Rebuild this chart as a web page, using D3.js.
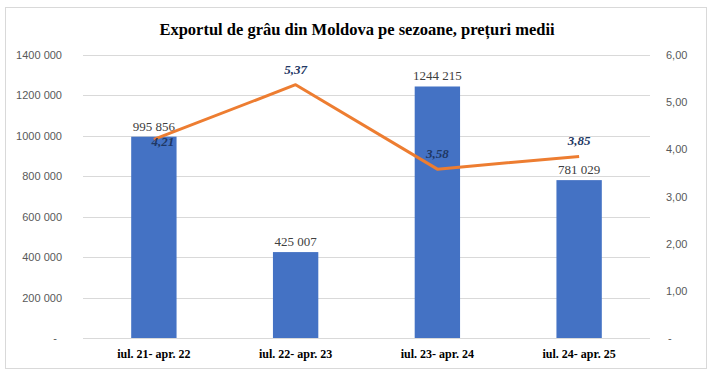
<!DOCTYPE html>
<html>
<head>
<meta charset="utf-8">
<script src="https://cdn.jsdelivr.net/npm/d3@7"></script>
<style>
  body { margin: 0; background: #fff; }
  svg { display: block; }
</style>
</head>
<body>
<div id="chart"></div>
<script>
const seasons = ['iul. 21- apr. 22', 'iul. 22- apr. 23', 'iul. 23- apr. 24', 'iul. 24- apr. 25']
const exportVolume = [995856, 425007, 1244215, 781029]
const avgPrice = [4.21, 5.37, 3.58, 3.85]
const leftTicks = [0, 200000, 400000, 600000, 800000, 1000000, 1200000, 1400000]
const rightTicks = [0, 1, 2, 3, 4, 5, 6]

const WIDTH = 714, HEIGHT = 376
const MARGIN = { top: 55, right: 64, bottom: 38, left: 83 }
const W = WIDTH - MARGIN.left - MARGIN.right
const H = HEIGHT - MARGIN.top - MARGIN.bottom

// excel style: "1244 215", "-" for zero
const fmtVol = v => {
  if (v === 0) return '-'
  const th = Math.floor(v / 1000), rest = v % 1000
  return th > 0 ? `${th} ${String(rest).padStart(3, '0')}` : String(rest)
}
const fmtPrice = v => v === 0 ? '-' : v.toFixed(2).replace('.', ',')

const svg = d3.select('#chart').append('svg').attr('width', WIDTH).attr('height', HEIGHT)

svg.append('rect')
  .attr('x', 5.5).attr('y', 7.5).attr('width', 701).attr('height', 361)
  .attr('fill', '#fff').attr('stroke', '#d9d9d9')

svg.append('text')
  .attr('x', 357).attr('y', 35)
  .attr('text-anchor', 'middle')
  .style('font-family', '"Liberation Serif", "Times New Roman", serif')
  .style('font-weight', 'bold').style('font-size', '16.5px')
  .attr('fill', '#000')
  .text('Exportul de grâu din Moldova pe sezoane, prețuri medii')

const g = svg.append('g').attr('transform', `translate(${MARGIN.left},${MARGIN.top})`)

const x = d3.scaleBand().domain(seasons).range([0, W]).paddingInner(0.68).paddingOuter(0.34)
const xc = d => x(d) + x.bandwidth() / 2
const yL = d3.scaleLinear().domain([0, 1400000]).range([H, 0])
const yR = d3.scaleLinear().domain([0, 6]).range([H, 0])

// gridlines
g.append('g').selectAll('line').data(leftTicks.slice(1)).join('line')
  .attr('x1', 0).attr('x2', W)
  .attr('y1', d => Math.round(yL(d)) + 0.5).attr('y2', d => Math.round(yL(d)) + 0.5)
  .attr('stroke', '#d9d9d9').attr('stroke-width', 1)

// axes
const axisFont = g => g.selectAll('text')
  .style('font-family', '"Liberation Sans", Arial, sans-serif')
  .style('font-size', '11px').attr('fill', '#595959')

g.append('g')
  .call(d3.axisLeft(yL).tickValues(leftTicks).tickFormat(fmtVol).tickSize(0).tickPadding(21))
  .call(a => a.select('.domain').remove())
  .call(axisFont)
  .call(a => a.selectAll('text').filter(d => d === 0).attr('dx', -5))

g.append('g').attr('transform', `translate(${W},0)`)
  .call(d3.axisRight(yR).tickValues(rightTicks).tickFormat(fmtPrice).tickSize(0).tickPadding(16))
  .call(a => a.select('.domain').remove())
  .call(axisFont)
  .call(a => a.selectAll('text').filter(d => d === 0).attr('dx', 2))

// bars
g.append('g').selectAll('rect').data(exportVolume).join('rect')
  .attr('x', (d, i) => x(seasons[i]))
  .attr('y', d => yL(d))
  .attr('width', x.bandwidth())
  .attr('height', d => H - yL(d))
  .attr('fill', '#4472c4')

// x axis line + labels
g.append('line')
  .attr('x1', 0).attr('x2', W).attr('y1', H + 0.5).attr('y2', H + 0.5)
  .attr('stroke', '#d9d9d9')

g.append('g').selectAll('text').data(seasons).join('text')
  .attr('x', d => xc(d)).attr('y', H + 20)
  .attr('text-anchor', 'middle')
  .style('font-family', '"Liberation Serif", "Times New Roman", serif')
  .style('font-weight', 'bold').style('font-size', '12px')
  .attr('fill', '#000')
  .text(d => d)

// bar labels
g.append('g').selectAll('text').data(exportVolume).join('text')
  .attr('x', (d, i) => xc(seasons[i]))
  .attr('y', d => yL(d) - 6)
  .attr('text-anchor', 'middle')
  .style('font-family', '"Liberation Serif", "Times New Roman", serif')
  .style('font-size', '13px').attr('fill', '#404040')
  .text(fmtVol)

// price line
const line = d3.line().x((d, i) => xc(seasons[i])).y(d => yR(d))
g.append('path').datum(avgPrice)
  .attr('d', line)
  .attr('fill', 'none').attr('stroke', '#ed7d31')
  .attr('stroke-width', 3).attr('stroke-linejoin', 'round')

// price labels (first one sits on the line, the others above)
g.append('g').selectAll('text').data(avgPrice).join('text')
  .attr('x', (d, i) => xc(seasons[i]) + (i === 0 ? 9 : 0))
  .attr('y', (d, i) => yR(d) + (i === 0 ? 7 : -11))
  .attr('text-anchor', 'middle')
  .style('font-family', '"Liberation Serif", "Times New Roman", serif')
  .style('font-weight', 'bold').style('font-style', 'italic').style('font-size', '13px')
  .attr('fill', '#1f3864')
  .text(d => d.toFixed(2).replace('.', ','))
</script>
</body>
</html>
